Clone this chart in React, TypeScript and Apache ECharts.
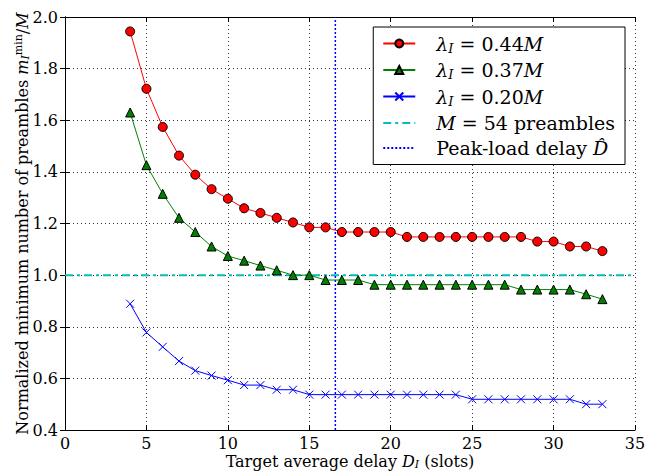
import React, { useEffect, useRef } from "react";
import * as echarts from "echarts";

const delays = [4, 5, 6, 7, 8, 9, 10, 11, 12, 13, 14, 15, 16, 17, 18, 19, 20, 21, 22, 23, 24, 25, 26, 27, 28, 29, 30, 31, 32, 33];
const red044 = [1.944, 1.722, 1.574, 1.463, 1.389, 1.333, 1.296, 1.259, 1.241, 1.222, 1.204, 1.185, 1.185, 1.167, 1.167, 1.167, 1.167, 1.148, 1.148, 1.148, 1.148, 1.148, 1.148, 1.148, 1.148, 1.130, 1.130, 1.111, 1.111, 1.093];
const green037 = [1.630, 1.426, 1.315, 1.222, 1.167, 1.111, 1.074, 1.056, 1.037, 1.019, 1.0, 1.0, 0.981, 0.981, 0.981, 0.963, 0.963, 0.963, 0.963, 0.963, 0.963, 0.963, 0.963, 0.963, 0.944, 0.944, 0.944, 0.944, 0.926, 0.907];
const blue020 = [0.889, 0.778, 0.722, 0.667, 0.630, 0.611, 0.593, 0.574, 0.574, 0.556, 0.556, 0.537, 0.537, 0.537, 0.537, 0.537, 0.537, 0.537, 0.537, 0.537, 0.537, 0.519, 0.519, 0.519, 0.519, 0.519, 0.519, 0.519, 0.500, 0.500];
const preambleLevel = 1.0;
const peakDelay = 16.6;
const xRange = [0, 35];
const yRange = [0.4, 2.0];

const names = ["λI044", "λI037", "λI020", "M54", "peak"];
const legendRich: Record<string, string> = {
  λI044: "{g|}{it|λ}{sub|I}{n| = 0.44}{it|M}",
  λI037: "{g|}{it|λ}{sub|I}{n| = 0.37}{it|M}",
  λI020: "{g|}{it|λ}{sub|I}{n| = 0.20}{it|M}",
  M54: "{g|}{it|M}{n| = 54 preambles}",
  peak: "{g|}{n|Peak-load delay }{it|D̂}",
};

const SERIF = "DejaVu Serif";

export default function App() {
  const ref = useRef<HTMLDivElement>(null);
  useEffect(() => {
    if (!ref.current) return;
    const chart = echarts.init(ref.current, undefined, { renderer: "svg" });
    const pair = (ys: number[]) => delays.map((d, i) => [d, ys[i]]);
    const LF = 19;
    const richLegend = {
      g: { width: 16 },
      n: { fontFamily: SERIF, fontSize: LF, color: "#000" },
      it: { fontFamily: SERIF, fontSize: LF, fontStyle: "italic", color: "#000" },
      sub: { fontFamily: SERIF, fontSize: 13, fontStyle: "italic", color: "#000", padding: [9, 0, 0, 0] },
    };
    const AF = 16;
    const axisRich = {
      n: { fontFamily: SERIF, fontSize: AF, lineHeight: 18, color: "#000" },
      it: { fontFamily: SERIF, fontSize: AF, lineHeight: 18, fontStyle: "italic", color: "#000" },
      sub: { fontFamily: SERIF, fontSize: 11, lineHeight: 12, fontStyle: "italic", color: "#000", padding: [7, 0, 0, 0] },
      sup: { fontFamily: SERIF, fontSize: 11, lineHeight: 12, color: "#000", padding: [0, 0, 8, 0] },
    };
    const gridLine = { show: true, lineStyle: { color: "#333", type: [1, 3] as any, width: 1 } };
    const hidden = { color: "rgba(0,0,0,0)", borderWidth: 0 };
    chart.setOption({
      animation: false,
      backgroundColor: "#fff",
      grid: { left: 65, right: 10, top: 17, bottom: 42, containLabel: false, outerBoundsMode: "none" },
      legend: {
        data: [
          { name: names[0] },
          { name: names[1] },
          { name: names[2] },
          { name: names[3], itemStyle: hidden },
          { name: names[4], itemStyle: hidden },
        ],
        orient: "vertical",
        right: 20,
        top: 27,
        backgroundColor: "#fff",
        borderColor: "#000",
        borderWidth: 1,
        borderRadius: 0,
        padding: [7, 10, 7, 9],
        itemGap: 6,
        itemWidth: 32,
        itemHeight: 10,
        formatter: (name: string) => legendRich[name],
        textStyle: { fontFamily: SERIF, fontSize: LF, color: "#000", rich: richLegend },
      },
      xAxis: [
        {
          type: "value",
          min: xRange[0],
          max: xRange[1],
          interval: 5,
          name: "{n|Target average delay }{it|D}{sub|I}{n| (slots)}",
          nameLocation: "middle",
          nameGap: 22,
          nameMoveOverlap: false,
          nameTextStyle: { rich: axisRich },
          axisLine: { lineStyle: { color: "#000", width: 1 } },
          axisTick: { inside: true, length: 5, lineStyle: { color: "#000" } },
          axisLabel: { fontFamily: SERIF, fontSize: 16, lineHeight: 16, color: "#000", margin: 5 },
          splitLine: gridLine,
        },
        {
          type: "value",
          position: "top",
          min: xRange[0],
          max: xRange[1],
          interval: 5,
          axisLine: { show: true, lineStyle: { color: "#000", width: 1 } },
          axisTick: { inside: true, length: 5, lineStyle: { color: "#000" } },
          axisLabel: { show: false },
          splitLine: { show: false },
        },
      ],
      yAxis: [
        {
          type: "value",
          min: yRange[0],
          max: yRange[1],
          interval: 0.2,
          name: "{n|Normalized minimum number of preambles }{it|m}{sub|I}{sup|min}{n|/}{it|M}",
          nameLocation: "middle",
          nameRotate: 90,
          nameGap: 34,
          nameMoveOverlap: false,
          nameTextStyle: { rich: axisRich },
          axisLine: { lineStyle: { color: "#000", width: 1 } },
          axisTick: { inside: true, length: 5, lineStyle: { color: "#000" } },
          axisLabel: { fontFamily: SERIF, fontSize: 16, color: "#000", margin: 7, formatter: (v: number) => v.toFixed(1) },
          splitLine: gridLine,
        },
        {
          type: "value",
          position: "right",
          min: yRange[0],
          max: yRange[1],
          interval: 0.2,
          axisLine: { show: true, lineStyle: { color: "#000", width: 1 } },
          axisTick: { inside: true, length: 5, lineStyle: { color: "#000" } },
          axisLabel: { show: false },
          splitLine: { show: false },
        },
      ],
      series: [
        {
          name: "M54",
          type: "line",
          data: [[xRange[0], preambleLevel], [xRange[1], preambleLevel]],
          symbol: "none",
          lineStyle: { color: "#00bfbf", width: 2, type: [8, 4, 3, 4] },
          itemStyle: { color: "#00bfbf" },
          z: 1,
        },
        {
          name: "peak",
          type: "line",
          data: [[peakDelay, yRange[0]], [peakDelay, yRange[1]]],
          symbol: "none",
          lineStyle: { color: "#0000ff", width: 1.5, type: [2, 2] },
          itemStyle: { color: "#0000ff" },
          z: 1,
        },
        {
          name: "λI044",
          type: "line",
          data: pair(red044),
          symbol: "circle",
          symbolSize: 9,
          lineStyle: { color: "#ff0000", width: 1 },
          itemStyle: { color: "#ff0000", borderColor: "#000", borderWidth: 1 },
          z: 3,
        },
        {
          name: "λI037",
          type: "line",
          data: pair(green037),
          symbol: "triangle",
          symbolSize: 9,
          lineStyle: { color: "#008000", width: 1 },
          itemStyle: { color: "#008000", borderColor: "#000", borderWidth: 1 },
          z: 3,
        },
        {
          name: "λI020",
          type: "line",
          data: pair(blue020),
          symbol: "path://M0,0L10,10M10,0L0,10",
          symbolSize: 8,
          lineStyle: { color: "#0000ff", width: 1 },
          itemStyle: { color: "none", borderColor: "#0000ff", borderWidth: 1 },
          z: 3,
        },
      ],
    });
    return () => chart.dispose();
  }, []);
  return <div ref={ref} style={{ width: 645, height: 472, position: "fixed", left: 0, top: 0 }} />;
}
